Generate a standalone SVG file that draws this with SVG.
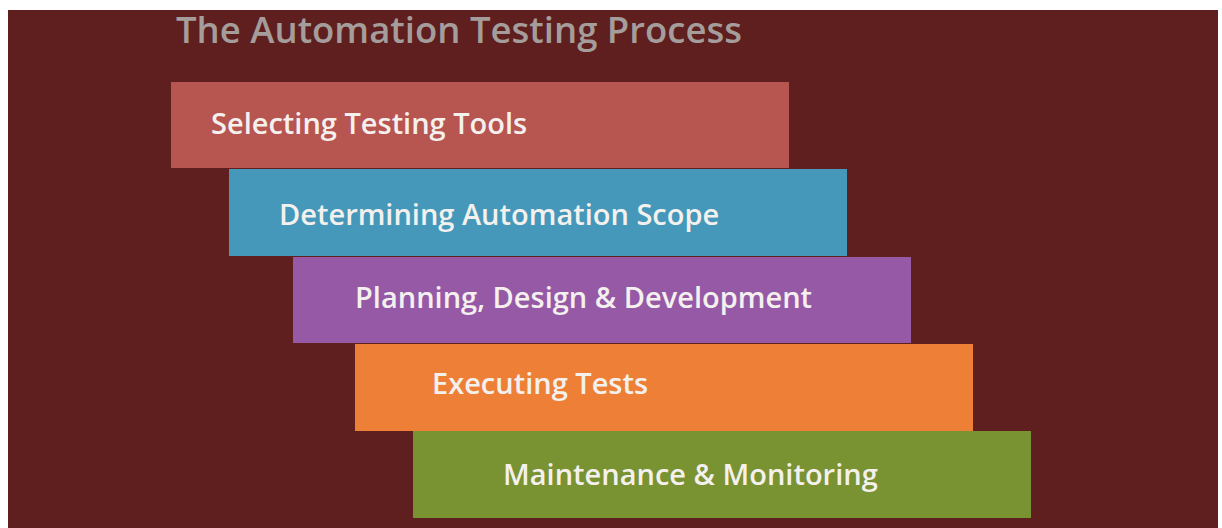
<svg xmlns="http://www.w3.org/2000/svg" width="1222" height="528" viewBox="0 0 1222 528">
<style>
.lbl{font-family:"Open Sans","Noto Sans",sans-serif;font-weight:600;font-size:29px;fill:#f4f0ee}
.title{font-family:"Open Sans","Noto Sans",sans-serif;font-weight:600;font-size:36.5px;fill:#a59d9c}
</style>
<rect x="0" y="0" width="1222" height="528" fill="#ffffff"/>
<rect x="8" y="10" width="1210" height="518" fill="#5e1f1e"/>
<text class="title" x="176" y="43">The Automation Testing Process</text>
<g id="step1"><rect x="171" y="82" width="618" height="86" fill="#b75550"/><text class="lbl" x="211" y="134">Selecting Testing Tools</text></g>
<g id="step2"><rect x="229" y="169" width="618" height="87" fill="#4598b9"/><text class="lbl" x="279" y="225">Determining Automation Scope</text></g>
<g id="step3"><rect x="293" y="257" width="618" height="86" fill="#9559a6"/><text class="lbl" x="355" y="308">Planning, Design &amp; Development</text></g>
<g id="step4"><rect x="355" y="344" width="618" height="87" fill="#ed8036"/><text class="lbl" x="432" y="394">Executing Tests</text></g>
<g id="step5"><rect x="413" y="431" width="618" height="87" fill="#799232"/><text class="lbl" x="503" y="485">Maintenance &amp; Monitoring</text></g>
<g id="connectors"></g>
</svg>
